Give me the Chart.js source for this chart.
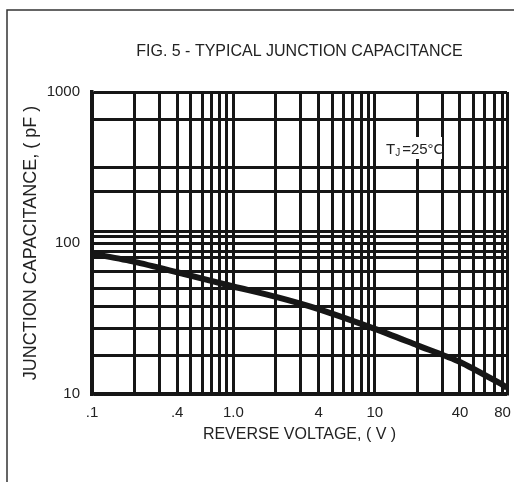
<!DOCTYPE html>
<html><head><meta charset="utf-8">
<script src="https://cdn.jsdelivr.net/npm/chart.js@4.4.0/dist/chart.umd.min.js"></script>
<style>html,body{margin:0;padding:0;background:#fff;overflow:hidden}#wrap{width:524px;height:482px;position:relative}</style>
</head><body><div id="wrap"><canvas id="c" width="524" height="482"></canvas></div>
<script>
// Curve
const voltage = [0.1, 0.2, 0.4, 1, 2, 4, 10, 20, 40, 80, 86];
const capacitance = [85, 75, 64, 51.5, 44, 36.5, 27, 21, 16.3, 11.5, 11.0];
// Grid line values (as drawn in the reference)
const xGridValues = [0.1,0.2,0.3,0.4,0.5,0.6,0.7,0.8,0.9,1,2,3,4,5,6,7,8,9,10,20,30,40,50,60,70,80,86];
const yGridValues = [10, 18, 27, 38, 50, 65, 80, 88, 100, 110, 120, 218, 318, 662, 1000];
// Tick labels
const xTickValues = [0.1, 0.4, 1, 4, 10, 40, 80];
const xTickLabels = ['.1', '.4', '1.0', '4', '10', '40', '80'];
const yTickValues = [10, 100, 1000];
const yTickLabels = ['10', '100', '1000'];

const FONT = '"Liberation Sans", Arial, sans-serif';
const INK = '#161616';

function labelFor(vals, labs, v) {
  const i = vals.findIndex(t => Math.abs(t - v) / t < 1e-6);
  return i >= 0 ? labs[i] : '';
}

const framePlugin = {
  id: 'frame',
  beforeDraw(chart) {
    const ctx = chart.ctx;
    ctx.save();
    ctx.fillStyle = '#fff';
    ctx.fillRect(0, 0, chart.width, chart.height);
    ctx.strokeStyle = '#333';
    ctx.lineWidth = 1.5;
    ctx.beginPath();
    ctx.moveTo(7, 482);
    ctx.lineTo(7, 10);
    ctx.lineTo(514, 10);
    ctx.stroke();
    ctx.restore();
  }
};

const notePlugin = {
  id: 'note',
  afterDatasetsDraw(chart) {
    const ctx = chart.ctx;
    ctx.save();
    ctx.fillStyle = '#fff';
    ctx.fillRect(383, 137, 59, 22);
    ctx.fillStyle = '#222';
    ctx.textBaseline = 'alphabetic';
    ctx.font = '15px ' + FONT;
    let x = 386;
    ctx.fillText('T', x, 154);
    x += ctx.measureText('T').width;
    ctx.font = '10px ' + FONT;
    ctx.fillText('J', x, 156);
    x += ctx.measureText('J').width + 2;
    ctx.font = '15px ' + FONT;
    ctx.fillText('=25\u00B0C', x, 154);
    ctx.restore();
  }
};

new Chart(document.getElementById('c'), {
  type: 'line',
  data: {
    datasets: [{
      data: voltage.map((v, i) => ({ x: v, y: capacitance[i] })),
      borderColor: INK,
      borderWidth: 6,
      pointRadius: 0,
      tension: 0.25,
      fill: false
    }]
  },
  options: {
    responsive: false,
    devicePixelRatio: 1,
    animation: false,
    layout: { padding: { top: 0, right: 17, left: 0, bottom: 0 } },
    plugins: {
      legend: { display: false },
      tooltip: { enabled: false },
      title: {
        display: true,
        fullSize: false,
        text: 'FIG. 5 - TYPICAL JUNCTION CAPACITANCE',
        color: '#222',
        font: { family: FONT, size: 16, weight: 'normal', lineHeight: 1.2 },
        padding: { top: 42.4, bottom: 30.4 }
      }
    },
    scales: {
      x: {
        type: 'logarithmic',
        min: 0.1,
        max: 86,
        afterBuildTicks(scale) { scale.ticks = xGridValues.map(v => ({ value: v })); },
        afterFit(scale) { scale.height = 88; },
        grid: { color: INK, lineWidth: 3, drawTicks: false },
        border: { display: true, color: INK, width: 3.5 },
        ticks: {
          autoSkip: false, maxRotation: 0, padding: 10, color: '#222',
          font: { family: FONT, size: 15 },
          callback: (v) => labelFor(xTickValues, xTickLabels, v)
        },
        title: {
          display: true,
          text: 'REVERSE VOLTAGE, ( V )',
          color: '#222',
          font: { family: FONT, size: 16, lineHeight: 1.2 },
          padding: { top: 0, bottom: 37.4 }
        }
      },
      y: {
        type: 'logarithmic',
        min: 10,
        max: 1000,
        afterBuildTicks(scale) { scale.ticks = yGridValues.map(v => ({ value: v })); },
        afterFit(scale) { scale.width = 92; },
        grid: { color: INK, lineWidth: 3, drawTicks: false },
        border: { display: true, color: INK, width: 3.5 },
        ticks: {
          autoSkip: false, padding: 12, color: '#222',
          font: { family: FONT, size: 15 },
          callback: (v) => labelFor(yTickValues, yTickLabels, v)
        },
        title: {
          display: true,
          text: 'JUNCTION CAPACITANCE, ( pF )',
          color: '#222',
          font: { family: FONT, size: 18, lineHeight: 1.2 },
          padding: { top: 20, bottom: 0 }
        }
      }
    }
  },
  plugins: [framePlugin, notePlugin]
});
</script></body></html>
